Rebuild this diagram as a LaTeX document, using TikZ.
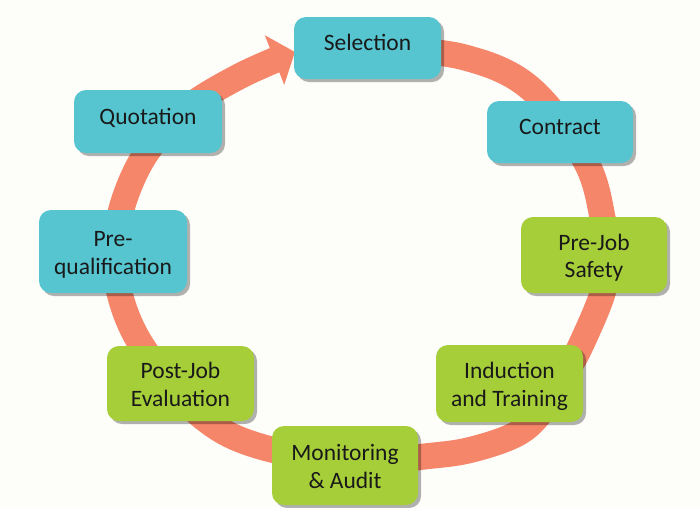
\documentclass[tikz,border=0pt]{standalone}
\usepackage{fontspec}
\setmainfont{Carlito}
\usetikzlibrary{shadows,arrows.meta}
\definecolor{bgc}{HTML}{FDFDFA}
\definecolor{tealc}{HTML}{56C5D0}
\definecolor{greenc}{HTML}{A6CE39}
\definecolor{ringc}{HTML}{F5866A}
\begin{document}
\begin{tikzpicture}[x=1pt,y=-1pt,
  box/.style={rectangle, rounded corners=12pt, inner sep=0pt, align=center,
    font=\fontsize{23.5}{27.5}\selectfont, text=black!90,
    drop shadow={shadow xshift=3pt, shadow yshift=-3pt, opacity=0.3, fill=black}},
  tealbox/.style={box, fill=tealc},
  greenbox/.style={box, fill=greenc},
  oneline/.style={text height=16pt, text depth=11pt},
  twoline/.style={text height=51pt, text depth=6pt},
  ring/.style={draw=ringc, line width=26pt, -{Triangle[width=52pt,length=22pt]}}]
\fill[bgc] (0,0) rectangle (700,507);
\useasboundingbox (0,0) rectangle (700,507);
\draw[ring] plot[smooth, tension=0.6] coordinates {
  (380,48) (463,57) (530,88) (585,160) (603,220) (607,262) (602,295) (580,347)
  (566,372) (548,403) (520,432) (470,450) (420,457) (365,463) (262,447) (200,415) (144,349)
  (120,295) (117,250) (122,207) (145,155) (185,110) (240,76) (295,52)};
\node[tealbox, oneline, minimum width=147pt, minimum height=62pt] (sel) at (367.5,48) {Selection};
\node[tealbox, oneline, minimum width=146pt, minimum height=62pt] (con) at (560,132) {Contract};
\node[greenbox, twoline, minimum width=146pt, minimum height=76pt] (pjs) at (594,255) {Pre-Job\\Safety};
\node[greenbox, twoline, minimum width=147pt, minimum height=77pt] (ind) at (509.5,383.5) {Induction\\and Training};
\node[greenbox, twoline, minimum width=146pt, minimum height=79pt] (mon) at (345,465.5) {Monitoring\\\& Audit};
\node[greenbox, twoline, minimum width=147pt, minimum height=75pt] (pje) at (180.5,383.5) {Post-Job\\Evaluation};
\node[tealbox, twoline, minimum width=148pt, minimum height=83pt] (pq) at (113,251.5) {Pre-\\qualification};
\node[tealbox, oneline, minimum width=148pt, minimum height=63pt] (quo) at (148,121.5) {Quotation};
\end{tikzpicture}
\end{document}
